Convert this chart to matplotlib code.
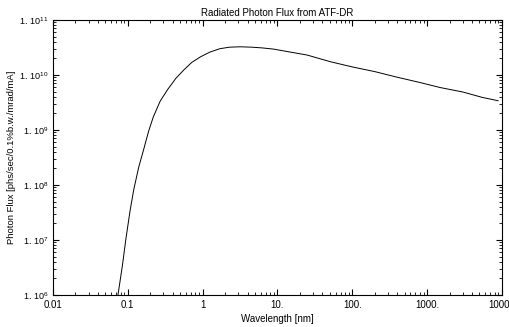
import numpy as np
import matplotlib
matplotlib.use('Agg')
import matplotlib.pyplot as plt
from matplotlib.ticker import FixedLocator, LogLocator, NullFormatter

plt.rcParams['font.family'] = ['Liberation Sans', 'DejaVu Sans']
plt.rcParams['mathtext.fontset'] = 'custom'
plt.rcParams['mathtext.rm'] = 'Liberation Sans'

# valori (lunghezza d'onda in nm, flusso)
lam = [0.074, 0.085, 0.094, 0.107, 0.12, 0.14, 0.163, 0.19, 0.22, 0.27, 0.34, 0.44,
       0.56, 0.72, 0.94, 1.25, 1.7, 2.3, 3.2, 4.5, 6.3, 8.9, 15, 25, 51, 100,
       200, 398, 800, 1500, 3000, 5500, 8900]
flux = [1.0e6, 3.5e6, 1.0e7, 3.3e7, 8.1e7, 2.1e8, 4.4e8, 9.5e8, 1.74e9, 3.3e9, 5.4e9,
        8.7e9, 1.23e10, 1.7e10, 2.14e10, 2.6e10, 3.0e10, 3.2e10, 3.25e10, 3.2e10,
        3.1e10, 2.95e10, 2.6e10, 2.3e10, 1.74e10, 1.4e10, 1.15e10, 9.1e9, 7.3e9,
        5.9e9, 4.9e9, 3.9e9, 3.4e9]

xticks = [0.01, 0.1, 1, 10, 100, 1000, 10000]
xlabels = ['0.01', '0.1', '1', '10.', '100.', '1000.', '10000']
yticks = [1e6, 1e7, 1e8, 1e9, 1e10, 1e11]
ylabels = [r'$1.\,10^{%d}$' % e for e in range(6, 12)]

fig = plt.figure(figsize=(5.09, 3.27), dpi=100)
ax = fig.add_axes([0.104, 0.098, 0.882, 0.841])

ax.loglog(lam, flux, color='black', lw=0.7)

ax.set_xlim(0.01, 10000)
ax.set_ylim(1e6, 1e11)
ax.xaxis.set_major_locator(FixedLocator(xticks))
ax.set_xticklabels(xlabels)
ax.xaxis.set_minor_locator(LogLocator(base=10, subs=np.arange(2, 10)))
ax.xaxis.set_minor_formatter(NullFormatter())
ax.yaxis.set_major_locator(FixedLocator(yticks))
ax.set_yticklabels(ylabels)
ax.yaxis.set_minor_locator(LogLocator(base=10, subs=np.arange(2, 10)))
ax.yaxis.set_minor_formatter(NullFormatter())

ax.tick_params(which='both', direction='in', top=True, right=True, labelsize=7)
ax.tick_params(which='major', length=4, width=0.8)
ax.tick_params(which='minor', length=2, width=0.6)
ax.tick_params(axis='y', pad=3, labelsize=6.5)

ax.set_title('Radiated Photon Flux from ATF-DR', fontsize=7, pad=3)
ax.set_xlabel('Wavelength [nm]', fontsize=7)
ax.xaxis.set_label_coords(0.5, -0.07)
ax.set_ylabel('Photon Flux [phs/sec/0.1%b.w./mrad/mA]', fontsize=6.8)
ax.yaxis.set_label_coords(-0.092, 0.5)
ax.yaxis.label.set_verticalalignment('center')

fig.savefig('out.png', dpi=100)
